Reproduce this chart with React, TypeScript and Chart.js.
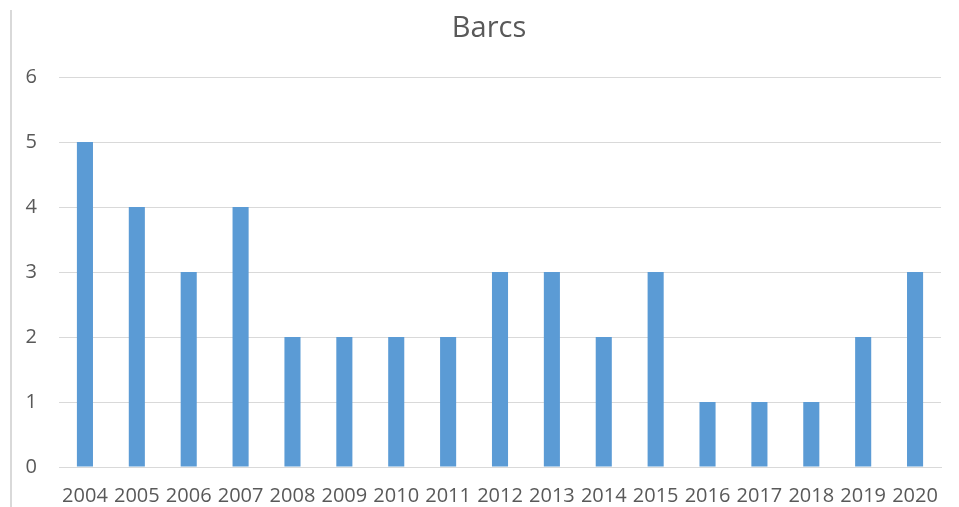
import React, { useEffect, useRef } from "react";
import { Chart, registerables } from "chart.js";

Chart.register(...registerables);

const categories = ["2004","2005","2006","2007","2008","2009","2010","2011","2012","2013","2014","2015","2016","2017","2018","2019","2020"];
const values = [5,4,3,4,2,2,2,2,3,3,2,3,1,1,1,2,3];
const titleText = "Barcs";

const titlePlugin = {
  id: "offsetTitle",
  afterDraw(chart: any) {
    const ctx = chart.ctx;
    ctx.save();
    ctx.fillStyle = "#595959";
    ctx.font = "normal 29px 'Open Sans', sans-serif";
    ctx.textAlign = "center";
    ctx.textBaseline = "middle";
    ctx.fillText(titleText, 489, 28.5);
    ctx.restore();
  },
};

export default function App() {
  const ref = useRef<HTMLCanvasElement | null>(null);
  useEffect(() => {
    if (!ref.current) return;
    const chart = new Chart(ref.current, {
      type: "bar",
      data: {
        labels: categories,
        datasets: [{
          data: values,
          backgroundColor: "#5B9BD5",
          borderWidth: 0,
          barPercentage: 0.62,
          categoryPercentage: 0.5,
        }],
      },
      options: {
        animation: false,
        responsive: false,
        maintainAspectRatio: false,
        layout: { padding: { left: 0, right: 18, top: 77, bottom: 0 } },
        plugins: {
          legend: { display: false },
          tooltip: { enabled: false },
          title: { display: false },
        },
        scales: {
          x: {
            grid: { display: false, drawTicks: false },
            border: { display: true, color: "#d9d9d9", width: 1 },
            ticks: {
              color: "#595959",
              font: { family: "'Open Sans', sans-serif", size: 20 },
              padding: 17,
              maxRotation: 0,
              autoSkip: false,
            },
            afterFit: (s: any) => { s.height = 40; },
          },
          y: {
            min: 0,
            max: 6,
            grid: { color: "#d9d9d9", lineWidth: 1, drawTicks: false },
            border: { display: false },
            ticks: {
              stepSize: 1,
              color: "#595959",
              font: { family: "'Open Sans', sans-serif", size: 20 },
              padding: 22,
            },
            afterFit: (s: any) => { s.width = 59; },
          },
        },
      },
      plugins: [titlePlugin],
    });
    return () => chart.destroy();
  }, []);
  return (
    <div style={{ position: "fixed", left: 0, top: 0, width: 959, height: 507, background: "#fff" }}>
      <div style={{ position: "absolute", left: 10, top: 10, width: 2, height: 497, background: "#d9d9d9" }} />
      <canvas ref={ref} width={959} height={507} style={{ position: "absolute", left: 0, top: 0, width: 959, height: 507 }} />
    </div>
  );
}
